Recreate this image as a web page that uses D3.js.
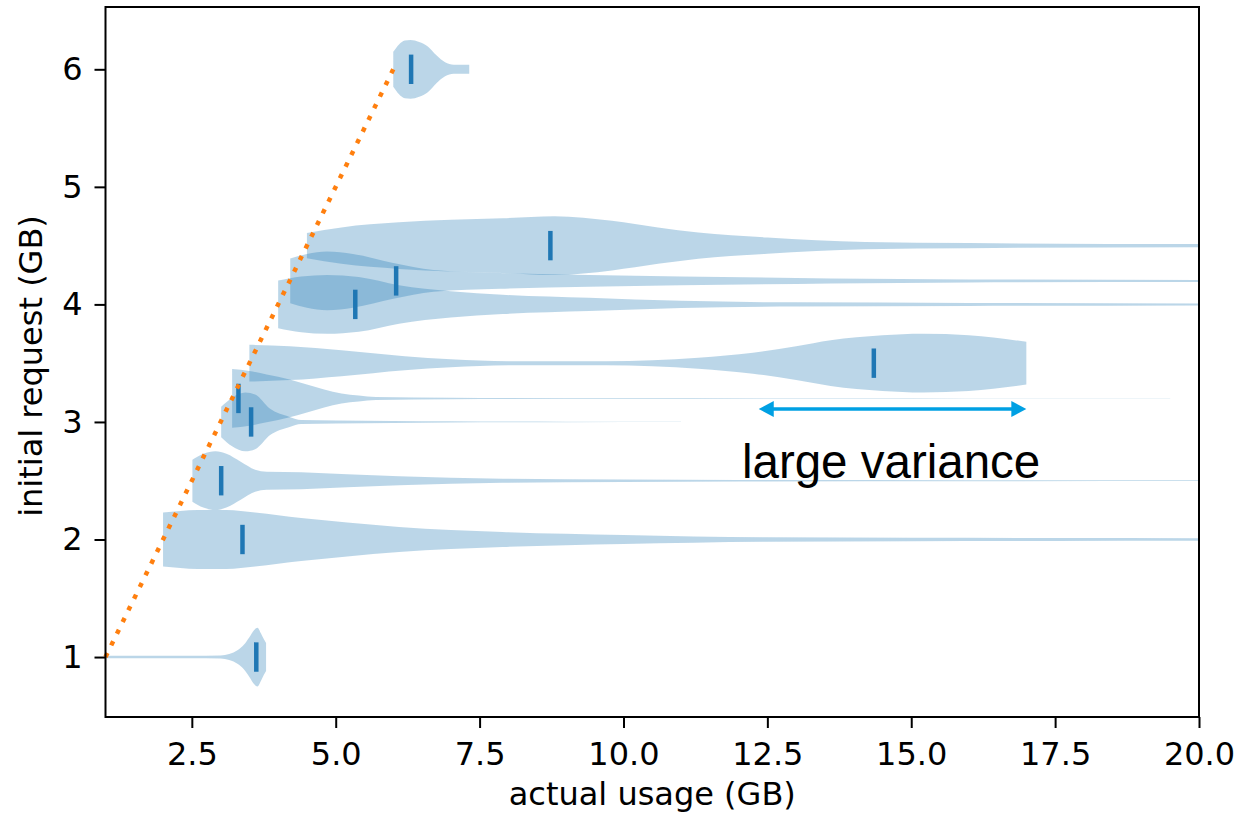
<!DOCTYPE html>
<html>
<head>
<meta charset="utf-8">
<script src="https://cdn.jsdelivr.net/npm/d3@7"></script>
<style>
  body { margin: 0; background: #fff; }
  text { font-family: "DejaVu Sans", sans-serif; }
</style>
</head>
<body>
<div id="container"></div>
<script>
/* DATA */
// initial request (GB) of each violin
const positions = [1, 2, 2.5, 3, 3.2, 3.5, 4, 4.2, 4.5, 6]

// median of actual usage (GB)
const medians = [3.62, 3.38, 3.01, 3.53, 3.31, 14.35, 5.34, 6.05, 8.73, 6.31]

// density of actual usage per violin, [usage, relative density]
const densities = [
  [[1, 1.2], [2.5, 1.2], [3.0, 1.5], [3.15, 3], [3.3, 7], [3.4, 12], [3.5, 20], [3.58, 27], [3.64, 29.5], [3.7, 24], [3.75, 18], [3.79, 14]],
  [[2.0, 27], [2.3, 28.5], [2.6, 29.5], [3.1, 29.5], [3.6, 27], [4.4, 21.5], [5.2, 17], [6.1, 12.5], [7.9, 7.5], [10, 4.5], [12.5, 2.2], [15, 1.8], [17.5, 1.5], [20, 1.3]],
  [[2.51, 21], [2.7, 27], [2.91, 29.5], [3.1, 27], [3.35, 19], [3.6, 11], [3.8, 9], [4.4, 8.5], [5.2, 6.5], [6.1, 4.5], [7.9, 2], [10, 1.2], [12, 0.7], [16, 0.5], [20, 0.4]],
  [[3.01, 15], [3.2, 24], [3.43, 29], [3.6, 27], [3.86, 13], [4.2, 5], [4.4, 2], [5, 1.5], [6, 1], [7, 0.6], [9, 0.25], [11, 0.12]],
  [[3.2, 29.5], [3.5, 27.5], [3.8, 24], [4.2, 19], [4.5, 14], [4.8, 9], [5.1, 5], [5.4, 3], [5.7, 1.5], [7, 0.8], [10, 0.35], [15, 0.2], [19.5, 0.12]],
  [[3.5, 18.5], [4.2, 17], [5.1, 13], [6.2, 7], [7, 4], [8, 2], [9.7, 2], [10.5, 3], [11.3, 5.5], [12.25, 10.5], [13, 17], [13.6, 23], [14.5, 28], [15.2, 29.5], [16, 28], [17, 21.5]],
  [[4.0, 23.5], [4.4, 27.5], [4.85, 29], [5.4, 27], [6.1, 19], [7, 13], [7.9, 9.5], [9.4, 6.5], [11, 3.5], [13, 2], [16, 1.5], [20, 1]],
  [[4.21, 22.5], [4.5, 27], [4.85, 29.5], [5.3, 27], [6, 18], [6.7, 11], [7.86, 8], [9.4, 6], [11, 4.5], [13.6, 2.5], [16, 1.5], [20, 1]],
  [[4.5, 12.5], [5.1, 18], [6.1, 23], [7, 25.5], [7.9, 27], [8.8, 29], [9.8, 24.5], [10.6, 18], [11.3, 13], [12.5, 8], [14.2, 3.5], [16, 2.5], [20, 1.5]],
  [[6.0, 17.5], [6.1, 25], [6.2, 29], [6.3, 29.5], [6.45, 27.5], [6.6, 23], [6.75, 14], [6.9, 7], [7.05, 4.5], [7.32, 4.5]]
]

// reference line request == usage
const diagonal = [[1, 1], [6, 6]]

// annotation arrow
const arrowFrom = [12.35, 3.11]
const arrowTo = [17.0, 3.11]
const noteText = "large variance"
const notePos = [14.65, 2.52]

const xTicks = [2.5, 5, 7.5, 10, 12.5, 15, 17.5, 20]
const yTicks = [1, 2, 3, 4, 5, 6]

/* CONSTANTS AND GLOBALS */
const width = 1247,
      height = 817,
      margin = {top: 7, bottom: 100, left: 105.5, right: 48}
const halfWidth = 0.25
const fontSize = 32

/* SCALES */
const xScale = d3.scaleLinear()
                 .domain([1, 20])
                 .range([margin.left, width - margin.right])

const yScale = d3.scaleLinear()
                 .domain([0.49, 6.53])
                 .range([height - margin.bottom, margin.top])

/* HTML ELEMENTS */
const svg = d3.select("#container")
              .append("svg")
              .attr("width", width)
              .attr("height", height)

// violins
const area = d3.area()
               .curve(d3.curveMonotoneX)

densities.forEach((dens, i) => {
  const pos = positions[i]
  const maxD = d3.max(dens, d => d[1])
  area.x(d => xScale(d[0]))
      .y0(d => yScale(pos - halfWidth * d[1] / maxD))
      .y1(d => yScale(pos + halfWidth * d[1] / maxD))
  svg.append("path")
     .attr("d", area(dens))
     .attr("fill", "#1f77b4")
     .attr("fill-opacity", 0.3)
})

// medians
svg.selectAll("line.median")
   .data(medians)
   .join("line")
   .attr("class", "median")
   .attr("x1", d => xScale(d))
   .attr("x2", d => xScale(d))
   .attr("y1", (d, i) => yScale(positions[i] - halfWidth / 2))
   .attr("y2", (d, i) => yScale(positions[i] + halfWidth / 2))
   .attr("stroke", "#1f77b4")
   .attr("stroke-width", 4.5)

// dotted diagonal
svg.append("path")
   .attr("d", d3.line().x(d => xScale(d[0])).y(d => yScale(d[1]))(diagonal))
   .attr("fill", "none")
   .attr("stroke", "#ff7f0e")
   .attr("stroke-width", 4.5)
   .attr("stroke-dasharray", "4.5 8.5")

// axes
const xAxis = d3.axisBottom(xScale)
                .tickValues(xTicks)
                .tickFormat(d3.format(".1f"))
                .tickSizeOuter(0)
                .tickSize(11)
                .tickPadding(14)

const yAxis = d3.axisLeft(yScale)
                .tickValues(yTicks)
                .tickFormat(d3.format("d"))
                .tickSizeOuter(0)
                .tickSize(11)
                .tickPadding(12)

const gx = svg.append("g")
   .attr("transform", `translate(0, ${height - margin.bottom})`)
   .call(xAxis)

const gy = svg.append("g")
   .attr("transform", `translate(${margin.left}, 0)`)
   .call(yAxis)

;[gx, gy].forEach(g => {
  g.select(".domain").remove()
  g.selectAll(".tick line").attr("stroke", "#000").attr("stroke-width", 2)
  g.selectAll(".tick text")
   .attr("fill", "#000")
   .style("font-family", "DejaVu Sans")
   .style("font-size", fontSize + "px")
})

// frame
svg.append("rect")
   .attr("x", margin.left)
   .attr("y", margin.top)
   .attr("width", width - margin.left - margin.right)
   .attr("height", height - margin.top - margin.bottom)
   .attr("fill", "none")
   .attr("stroke", "#000")
   .attr("stroke-width", 2)

// axis labels
svg.append("text")
   .attr("x", (margin.left + width - margin.right) / 2)
   .attr("y", 805)
   .attr("text-anchor", "middle")
   .style("font-size", fontSize + "px")
   .text("actual usage (GB)")

svg.append("text")
   .attr("transform", `translate(42, ${(margin.top + height - margin.bottom) / 2 + 4}) rotate(-90)`)
   .attr("text-anchor", "middle")
   .style("font-size", fontSize + "px")
   .text("initial request (GB)")

// annotation
const arrowColor = "#00a0e3"
const headLen = 15, headHalf = 8
const ax1 = xScale(arrowFrom[0]), ax2 = xScale(arrowTo[0]), ay = yScale(arrowFrom[1])

svg.append("line")
   .attr("x1", ax1 + headLen - 1)
   .attr("x2", ax2 - headLen + 1)
   .attr("y1", ay)
   .attr("y2", ay)
   .attr("stroke", arrowColor)
   .attr("stroke-width", 3.3)

svg.append("path")
   .attr("d", `M${ax1},${ay} L${ax1 + headLen},${ay - headHalf} L${ax1 + headLen},${ay + headHalf} Z`)
   .attr("fill", arrowColor)

svg.append("path")
   .attr("d", `M${ax2},${ay} L${ax2 - headLen},${ay - headHalf} L${ax2 - headLen},${ay + headHalf} Z`)
   .attr("fill", arrowColor)

svg.append("text")
   .attr("x", xScale(notePos[0]))
   .attr("y", yScale(notePos[1]))
   .attr("text-anchor", "middle")
   .style("font-family", "'Liberation Sans', Arial, sans-serif")
   .style("font-size", "47.5px")
   .text(noteText)
</script>
</body>
</html>
